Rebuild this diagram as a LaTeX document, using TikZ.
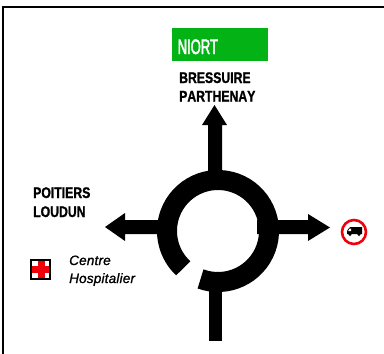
\documentclass[tikz,border=0pt]{standalone}
\usepackage{fontspec}
\setmainfont{Liberation Sans}
\newfontfamily\signfont[FakeStretch=0.795,FakeBold=1.2,Kerning=Off]{Liberation Sans Bold}
\newfontfamily\niortfont[FakeStretch=0.62,FakeBold=2]{Liberation Sans}
\newfontfamily\hospfont[FakeBold=1.2,LetterSpace=1.5]{Liberation Sans Italic}
\definecolor{signgreen}{RGB}{3,178,20}
\definecolor{signred}{RGB}{240,0,10}
\tikzset{
  road/.style={fill=black,draw=none},
  dest/.style={anchor=base west,inner sep=0pt,font=\signfont\fontsize{15.4}{18}\selectfont,text=black},
  hosp/.style={anchor=base west,inner sep=0pt,font=\hospfont\fontsize{13.5}{16}\selectfont,text=black},
}
\begin{document}
\begin{tikzpicture}[x=1pt,y=-1pt]
\useasboundingbox (0,0) rectangle (384,354);
\fill[white] (0,0) rectangle (384,354);
% frame
\draw[line width=1.8pt,black] (3,354) -- (3,6.8) -- (384,6.8);
% green panel
\fill[signgreen] (172,28) rectangle (268,61);
\node[anchor=base west,inner sep=0pt,text=white,font=\niortfont\fontsize{21}{24}\selectfont] (niort) at (177.5,54) {NIORT};
% destinations
\node[dest] (bressuire) at (179,83) {BRESSUIRE};
\node[dest] (parthenay) at (179,101.5) {PARTHENAY};
\node[dest] (poitiers) at (33,198) {POITIERS};
\node[dest] (loudun) at (33,217) {LOUDUN};
\node[hosp] (centre) at (69,265) {Centre};
\node[hosp] (hospitalier) at (69,283) {Hospitalier};
% ring
\draw[line width=20pt,black] ({218+51*cos(110)},{231+51*sin(110)}) arc[start angle=110,end angle=-227,radius=51];
% up arrow
\fill[road] (208,180) -- (208,125) -- (202,125) -- (214.5,105) -- (227,125) -- (222,125) -- (222,180) -- cycle;
% left arrow
\fill[road] (165,220) -- (125,220) -- (125,213) -- (105,227) -- (125,241) -- (125,234) -- (165,234) -- cycle;
% right arrow
\fill[road] (257,220) -- (308,220) -- (308,214) -- (330,227.5) -- (308,241) -- (308,234) -- (257,234) -- cycle;
% bottom road
\fill[road] (209,285) rectangle (222,341);
% lorry prohibition sign
\draw[signred,line width=2.6pt] (354,232) circle[radius=12];
\fill[black] (350.5,227) -- (362,227) -- (362,234) -- (347,234) -- (347,231) -- (349,228) -- cycle;
\fill[white] (348.2,231) -- (349.6,228.6) -- (351,228.6) -- (351,231) -- cycle;
\fill[black] (350,234.5) circle[radius=1.6];
\fill[black] (359,234.5) circle[radius=1.6];
% hospital symbol
\draw[black,line width=1.6pt,fill=white] (30.8,259.8) rectangle (50.2,279.2);
\fill[signred] (37.5,261) rectangle (44.5,278);
\fill[signred] (32,266) rectangle (49,273);
\end{tikzpicture}
\end{document}
